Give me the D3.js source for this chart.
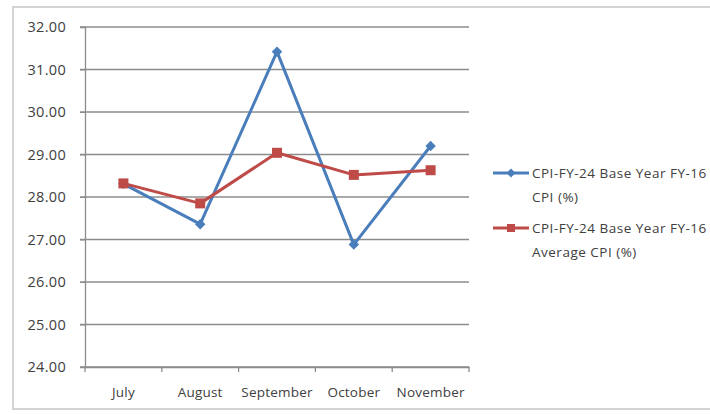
<!DOCTYPE html>
<html>
<head>
<meta charset="utf-8">
<script src="https://cdn.jsdelivr.net/npm/d3@7"></script>
<style>
  html, body { margin: 0; padding: 0; background: #fff; }
  svg { display: block; font-family: "Open Sans", "DejaVu Sans", sans-serif; }
</style>
</head>
<body>
<div id="chart"></div>
<script>
// data
const months = ['July', 'August', 'September', 'October', 'November']
const cpi = [28.31, 27.36, 31.42, 26.88, 29.20]
const avgCpi = [28.32, 27.85, 29.04, 28.52, 28.63]
const yTicks = [24, 25, 26, 27, 28, 29, 30, 31, 32]
const seriesNames = [
  ['CPI-FY-24 Base Year FY-16', 'CPI (%)'],
  ['CPI-FY-24 Base Year FY-16', 'Average CPI (%)'],
]
const seriesColors = ['#4a7ebb', '#be4b48']

const width = 710, height = 414
const margin = { top: 27, right: 241, bottom: 47, left: 85 }

const svg = d3.select('#chart')
  .append('svg')
  .attr('width', width)
  .attr('height', height)

// outer chart frame (only top/left/bottom visible in the reference)
svg.append('path')
  .attr('d', `M ${width} 7 H 13 V 409 H ${width}`)
  .attr('fill', 'none')
  .attr('stroke', '#d4d4d4')
  .attr('stroke-width', 2)

const x = d3.scaleBand()
  .domain(months)
  .range([margin.left, width - margin.right])

const y = d3.scaleLinear()
  .domain([24, 32])
  .range([height - margin.bottom, margin.top])

// gridlines
svg.append('g')
  .selectAll('line')
  .data(yTicks)
  .join('line')
  .attr('x1', margin.left - 5)
  .attr('x2', width - margin.right)
  .attr('y1', d => y(d))
  .attr('y2', d => y(d))
  .attr('stroke', '#8c8c8c')
  .attr('stroke-width', 1.3)

// y axis
const yAxis = svg.append('g')
  .attr('transform', `translate(${margin.left},0)`)
  .call(d3.axisLeft(y).tickValues(yTicks).tickFormat(d3.format('.2f')).tickSize(5).tickPadding(14))
yAxis.select('.domain').attr('stroke', '#8c8c8c').attr('stroke-width', 1.3)
yAxis.selectAll('.tick line').attr('stroke', '#8c8c8c')
yAxis.selectAll('text').attr('font-size', 14.5).attr('fill', '#404040')
  .attr('font-family', '"Open Sans", sans-serif')
  .attr('letter-spacing', 0.3)

// x axis
const xAxis = svg.append('g')
  .attr('transform', `translate(0,${height - margin.bottom})`)
  .call(d3.axisBottom(x).tickSize(0).tickPadding(20))
xAxis.select('.domain').attr('stroke', '#8c8c8c').attr('stroke-width', 1.3)
xAxis.selectAll('text').attr('font-size', 13.5).attr('fill', '#404040')
  .attr('font-family', '"Open Sans", sans-serif')
  .attr('letter-spacing', 0.2)
// category boundary ticks
svg.append('g')
  .selectAll('line')
  .data(months.concat(['end']))
  .join('line')
  .attr('x1', (d, i) => margin.left + i * x.step())
  .attr('x2', (d, i) => margin.left + i * x.step())
  .attr('y1', height - margin.bottom)
  .attr('y2', height - margin.bottom + 5)
  .attr('stroke', '#8c8c8c')
  .attr('stroke-width', 1.3)

const cx = d => x(d) + x.bandwidth() / 2
const line = d3.line()
  .x((d, i) => cx(months[i]))
  .y(d => y(d))

const bounds = svg.append('g')

;[cpi, avgCpi].forEach((values, s) => {
  bounds.append('path')
    .datum(values)
    .attr('d', line)
    .attr('fill', 'none')
    .attr('stroke', seriesColors[s])
    .attr('stroke-width', 3)
    .attr('stroke-linejoin', 'round')
})

// markers
bounds.selectAll('.diamond')
  .data(cpi)
  .join('path')
  .attr('class', 'diamond')
  .attr('d', d3.symbol(d3.symbolDiamond2, 70))
  .attr('transform', (d, i) => `translate(${cx(months[i])},${y(d)})`)
  .attr('fill', seriesColors[0])

bounds.selectAll('.square')
  .data(avgCpi)
  .join('rect')
  .attr('class', 'square')
  .attr('x', (d, i) => cx(months[i]) - 5)
  .attr('y', d => y(d) - 5)
  .attr('width', 10)
  .attr('height', 10)
  .attr('fill', seriesColors[1])

// legend
const legend = svg.append('g')
const legendY = [173, 228]
seriesNames.forEach((lines, s) => {
  const g = legend.append('g').attr('transform', `translate(493,${legendY[s]})`)
  g.append('line')
    .attr('x1', 0).attr('x2', 36)
    .attr('stroke', seriesColors[s])
    .attr('stroke-width', 3)
  if (s === 0) {
    g.append('path')
      .attr('d', d3.symbol(d3.symbolDiamond2, 50))
      .attr('transform', 'translate(18,0)')
      .attr('fill', seriesColors[s])
  } else {
    g.append('rect')
      .attr('x', 14).attr('y', -4).attr('width', 8).attr('height', 8)
      .attr('fill', seriesColors[s])
  }
  const t = g.append('text')
    .attr('x', 39)
    .attr('font-size', 13.5)
    .attr('fill', '#404040')
    .attr('font-family', '"Open Sans", sans-serif')
    .attr('letter-spacing', 0.5)
  lines.forEach((txt, i) => {
    t.append('tspan')
      .attr('x', 39)
      .attr('dy', i === 0 ? '0.35em' : 24)
      .text(txt)
  })
})
</script>
</body>
</html>
